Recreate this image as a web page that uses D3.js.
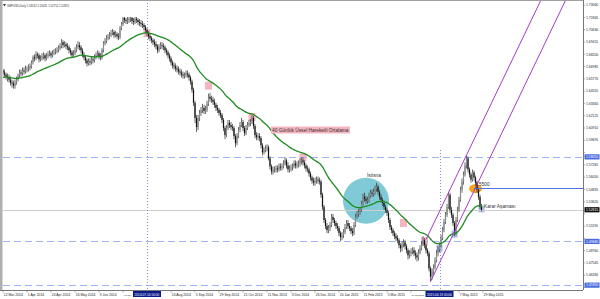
<!DOCTYPE html>
<html>
<head>
<meta charset="utf-8">
<script src="https://cdn.jsdelivr.net/npm/d3@7"></script>
<style>
  body { margin: 0; background: #fff; }
  svg { display: block; font-family: "Liberation Sans", Arial, sans-serif; }
</style>
</head>
<body>
<div id="chart"></div>
<script>

// --------------------------------------
//  Data (GBPUSD daily)
// --------------------------------------

const firstOpen = 1.666;

const closes = [
  1.664,1.662,1.660,1.659,1.657,1.654,1.653,1.651,1.654,1.657,
  1.661,1.664,1.663,1.666,1.665,1.667,1.667,1.668,1.670,1.674,
  1.679,1.678,1.682,1.681,1.677,1.678,1.680,1.681,1.678,1.680,
  1.682,1.683,1.681,1.683,1.684,1.685,1.686,1.688,1.690,1.694,
  1.691,1.692,1.690,1.689,1.686,1.684,1.681,1.683,1.686,1.689,
  1.691,1.689,1.686,1.681,1.679,1.676,1.673,1.675,1.674,1.677,
  1.676,1.679,1.681,1.683,1.680,1.679,1.686,1.693,1.695,1.698,
  1.699,1.701,1.703,1.704,1.701,1.702,1.700,1.699,1.708,1.712,
  1.718,1.716,1.715,1.716,1.717,1.718,1.715,1.714,1.717,1.716,
  1.714,1.713,1.712,1.711,1.709,1.706,1.703,1.700,1.698,1.696,
  1.694,1.692,1.690,1.686,1.689,1.691,1.690,1.689,1.686,1.684,
  1.681,1.678,1.674,1.671,1.670,1.668,1.667,1.665,1.664,1.662,
  1.661,1.661,1.663,1.662,1.659,1.655,1.647,1.634,1.619,1.610,
  1.619,1.624,1.627,1.629,1.626,1.627,1.633,1.640,1.638,1.637,
  1.635,1.632,1.629,1.627,1.624,1.622,1.617,1.609,1.602,1.609,
  1.614,1.612,1.610,1.609,1.601,1.594,1.601,1.607,1.612,1.615,
  1.609,1.604,1.609,1.612,1.614,1.615,1.619,1.611,1.602,1.600,
  1.601,1.599,1.592,1.585,1.587,1.589,1.590,1.579,1.571,1.566,
  1.568,1.568,1.569,1.568,1.571,1.570,1.571,1.574,1.577,1.572,
  1.568,1.569,1.570,1.571,1.574,1.572,1.573,1.574,1.576,1.577,
  1.575,1.572,1.569,1.568,1.564,1.560,1.557,1.555,1.557,1.558,
  1.557,1.556,1.543,1.531,1.518,1.512,1.508,1.510,1.513,1.521,
  1.518,1.515,1.512,1.510,1.505,1.501,1.503,1.506,1.511,1.515,
  1.512,1.510,1.507,1.505,1.513,1.521,1.524,1.526,1.528,1.534,
  1.541,1.539,1.537,1.538,1.542,1.545,1.544,1.546,1.549,1.551,
  1.546,1.541,1.538,1.535,1.531,1.528,1.525,1.518,1.511,1.508,
  1.505,1.502,1.500,1.498,1.493,1.490,1.494,1.496,1.492,1.488,
  1.483,1.485,1.487,1.488,1.485,1.483,1.481,1.486,1.490,1.494,
  1.498,1.493,1.488,1.485,1.470,1.462,1.467,1.471,1.478,1.485,
  1.489,1.493,1.500,1.508,1.516,1.523,1.531,1.543,1.528,1.523,
  1.515,1.505,1.518,1.528,1.538,1.548,1.556,1.563,1.572,1.579,
  1.568,1.563,1.558,1.565,1.560,1.555,1.548,1.541,1.531,1.528
];

const highs = [
  1.668,1.667,1.664,1.663,1.662,1.660,1.657,1.656,1.657,1.660,
  1.663,1.667,1.667,1.669,1.669,1.671,1.670,1.672,1.673,1.676,
  1.681,1.682,1.685,1.684,1.683,1.681,1.683,1.684,1.683,1.683,
  1.685,1.686,1.685,1.686,1.687,1.688,1.689,1.691,1.693,1.697,
  1.696,1.695,1.694,1.693,1.691,1.688,1.686,1.686,1.689,1.692,
  1.695,1.694,1.691,1.688,1.684,1.681,1.678,1.678,1.678,1.680,
  1.680,1.682,1.684,1.686,1.685,1.683,1.688,1.695,1.698,1.701,
  1.702,1.704,1.706,1.707,1.706,1.705,1.704,1.703,1.710,1.714,
  1.719,1.719,1.718,1.719,1.719,1.719,1.719,1.718,1.719,1.719,
  1.718,1.717,1.716,1.715,1.713,1.711,1.708,1.705,1.702,1.700,
  1.698,1.697,1.695,1.692,1.692,1.694,1.694,1.693,1.691,1.688,
  1.686,1.683,1.680,1.676,1.674,1.673,1.671,1.670,1.668,1.667,
  1.665,1.664,1.666,1.666,1.664,1.661,1.657,1.649,1.636,1.622,
  1.622,1.627,1.630,1.633,1.632,1.631,1.636,1.643,1.644,1.641,
  1.640,1.638,1.634,1.632,1.629,1.627,1.624,1.619,1.611,1.612,
  1.617,1.617,1.615,1.613,1.611,1.603,1.604,1.610,1.615,1.619,
  1.617,1.611,1.612,1.615,1.617,1.618,1.622,1.621,1.613,1.605,
  1.604,1.604,1.601,1.594,1.590,1.592,1.593,1.592,1.581,1.573,
  1.571,1.571,1.572,1.572,1.574,1.574,1.574,1.577,1.580,1.579,
  1.575,1.572,1.573,1.574,1.577,1.577,1.576,1.577,1.579,1.580,
  1.580,1.577,1.574,1.572,1.570,1.566,1.562,1.560,1.560,1.561,
  1.561,1.560,1.558,1.545,1.533,1.520,1.515,1.513,1.516,1.524,
  1.524,1.520,1.517,1.515,1.512,1.507,1.506,1.509,1.514,1.518,
  1.518,1.515,1.512,1.510,1.516,1.524,1.527,1.529,1.531,1.537,
  1.544,1.545,1.542,1.541,1.545,1.548,1.548,1.549,1.552,1.555,
  1.553,1.548,1.544,1.540,1.537,1.533,1.530,1.527,1.520,1.513,
  1.510,1.507,1.505,1.503,1.500,1.495,1.497,1.499,1.498,1.494,
  1.490,1.488,1.490,1.491,1.491,1.488,1.486,1.489,1.493,1.497,
  1.502,1.500,1.495,1.490,1.487,1.472,1.470,1.474,1.481,1.488,
  1.492,1.496,1.503,1.511,1.519,1.526,1.534,1.546,1.545,1.531,
  1.525,1.517,1.521,1.531,1.541,1.551,1.559,1.566,1.575,1.582,
  1.581,1.570,1.565,1.568,1.567,1.562,1.557,1.550,1.543,1.534
];

const lows = [
  1.661,1.659,1.657,1.655,1.654,1.651,1.649,1.648,1.648,1.652,
  1.655,1.659,1.660,1.661,1.662,1.663,1.664,1.665,1.666,1.668,
  1.672,1.675,1.676,1.678,1.674,1.675,1.676,1.677,1.675,1.676,
  1.678,1.680,1.678,1.679,1.681,1.682,1.683,1.684,1.686,1.688,
  1.688,1.689,1.687,1.686,1.683,1.681,1.678,1.679,1.681,1.684,
  1.687,1.686,1.683,1.679,1.676,1.673,1.670,1.671,1.671,1.672,
  1.673,1.674,1.677,1.679,1.677,1.676,1.677,1.684,1.691,1.693,
  1.696,1.697,1.699,1.701,1.698,1.699,1.697,1.696,1.697,1.706,
  1.710,1.713,1.712,1.712,1.713,1.714,1.712,1.711,1.712,1.713,
  1.711,1.710,1.709,1.708,1.706,1.703,1.700,1.697,1.695,1.693,
  1.691,1.689,1.687,1.683,1.684,1.687,1.687,1.686,1.683,1.681,
  1.678,1.675,1.671,1.668,1.667,1.665,1.664,1.662,1.661,1.659,
  1.658,1.658,1.659,1.659,1.656,1.652,1.644,1.631,1.614,1.605,
  1.607,1.616,1.621,1.624,1.623,1.623,1.625,1.631,1.635,1.634,
  1.632,1.629,1.626,1.624,1.621,1.619,1.614,1.606,1.598,1.600,
  1.607,1.609,1.607,1.606,1.598,1.590,1.592,1.599,1.605,1.610,
  1.606,1.601,1.602,1.607,1.610,1.611,1.613,1.608,1.599,1.597,
  1.597,1.596,1.589,1.582,1.583,1.585,1.586,1.577,1.568,1.563,
  1.563,1.565,1.565,1.565,1.566,1.567,1.567,1.569,1.572,1.569,
  1.565,1.565,1.566,1.567,1.569,1.569,1.569,1.570,1.571,1.573,
  1.572,1.569,1.566,1.565,1.561,1.557,1.554,1.552,1.552,1.554,
  1.554,1.553,1.540,1.528,1.515,1.509,1.505,1.505,1.507,1.511,
  1.515,1.512,1.509,1.507,1.502,1.497,1.498,1.500,1.504,1.509,
  1.509,1.507,1.504,1.502,1.503,1.511,1.519,1.521,1.523,1.526,
  1.532,1.536,1.534,1.534,1.535,1.540,1.541,1.541,1.543,1.546,
  1.543,1.538,1.535,1.532,1.528,1.525,1.522,1.515,1.508,1.505,
  1.502,1.499,1.497,1.495,1.490,1.486,1.487,1.491,1.489,1.485,
  1.479,1.480,1.482,1.484,1.482,1.479,1.477,1.478,1.484,1.488,
  1.492,1.490,1.485,1.482,1.467,1.457,1.459,1.464,1.469,1.476,
  1.482,1.486,1.491,1.498,1.506,1.514,1.521,1.529,1.525,1.520,
  1.512,1.502,1.503,1.516,1.526,1.536,1.545,1.553,1.561,1.569,
  1.565,1.560,1.555,1.556,1.557,1.552,1.545,1.538,1.529,1.527
];

// 40 day EMA, seeded with the value seen at the left edge
const emaPeriod = 40;
const emaSeed = 1.659;

const priceTicks = [1.73060, 1.71845, 1.70630, 1.69415, 1.68200, 1.66985, 1.65770, 1.64555,
  1.63340, 1.62125, 1.60910, 1.59695, 1.58480, 1.57265, 1.56050, 1.54835, 1.53620, 1.52405,
  1.51190, 1.49975, 1.48760, 1.47545, 1.46330, 1.45115];

const timeLabels = [
  [0, "12 Mar 2014"], [16, "1 Apr 2014"], [32, "24 Apr 2014"], [48, "16 May 2014"],
  [64, "9 Jun 2014"], [80, "1 Jul 2014"], [112, "14 Aug 2014"], [128, "5 Sep 2014"],
  [144, "29 Sep 2014"], [160, "21 Oct 2014"], [176, "11 Nov 2014"], [192, "3 Dec 2014"],
  [208, "26 Dec 2014"], [224, "20 Jan 2015"], [240, "11 Feb 2015"], [256, "5 Mar 2015"],
  [272, "24 Mar 2015"], [304, "7 May 2015"], [320, "29 May 2015"]
];

// vertical lines: [bar, date text]
const vLines = [[96, "2014.07.14 00:00"], [291, "2015.04.13 00:00"]];

const dashedLevels = [1.5805, 1.4968, 1.4535];
const levelLine = {price: 1.5500, from: 314, text: "1.5500"};
const lastPrice = 1.52815;
const title = "GBPUSD,Daily  1.53142 1.53411 1.52752 1.52815";

// marks drawn on the chart: [bar, price]
const pinkBoxes = [[96, 1.703], [137, 1.651], [166, 1.620], [200, 1.580], [267, 1.515], [281, 1.497]];
const blueBoxes = [[291, 1.490], [301, 1.504], [319, 1.529]];
const orangeSpot = [315, 1.549];
const circleSpot = [242, 1.537];

// channel: two anchors of the lower line, offset of the upper line
const channelA = [285, 1.457];
const channelB = [300, 1.5034];
const channelWidth = 0.051;
const channelEnd = 420;

// --------------------------------------
//  Canvas
// --------------------------------------

const width = 600;
const height = 299;
const plotL = 3, plotR = 583, plotT = 0, plotB = 290;

const svg = d3.select("#chart")
  .append("svg")
    .attr("width", width)
    .attr("height", height);

const defs = svg.append("defs");
defs.append("clipPath").attr("id", "plot")
  .append("rect")
    .attr("x", plotL).attr("y", plotT)
    .attr("width", plotR - plotL).attr("height", plotB - plotT);

const x = d3.scaleLinear().domain([0, 319]).range([3, 481.5]);
const y = d3.scaleLinear().domain([1.4487, 1.7348]).range([290, 1]);

const bars = closes.map((c, i) => ({
  i, o: i ? closes[i - 1] : firstOpen, h: highs[i], l: lows[i], c
}));

let e = emaSeed;
const k = 2 / (emaPeriod + 1);
const ema = closes.map(c => (e = e + k * (c - e)));

const chart = svg.append("g").attr("clip-path", "url(#plot)");

// --------------------------------------
//  Background objects
// --------------------------------------

chart.append("circle")
  .attr("cx", x(circleSpot[0]))
  .attr("cy", y(circleSpot[1]))
  .attr("r", 23)
  .attr("fill", "#7fcad6");

chart.selectAll(".pink")
  .data(pinkBoxes)
  .join("rect")
    .attr("class", "pink")
    .attr("x", d => x(d[0]) - 3.5)
    .attr("y", d => y(d[1]) - 4)
    .attr("width", 7)
    .attr("height", 8)
    .attr("fill", "#f6b4c0");

chart.selectAll(".bluebox")
  .data(blueBoxes)
  .join("rect")
    .attr("class", "bluebox")
    .attr("x", d => x(d[0]) - 3)
    .attr("y", d => y(d[1]) - 3.5)
    .attr("width", 6)
    .attr("height", 7)
    .attr("fill", "#a8bde3");

chart.append("ellipse")
  .attr("cx", x(orangeSpot[0]))
  .attr("cy", y(orangeSpot[1]))
  .attr("rx", 6.5)
  .attr("ry", 4.5)
  .attr("fill", "#f7a21b");

chart.selectAll(".dash")
  .data(dashedLevels)
  .join("line")
    .attr("class", "dash")
    .attr("x1", plotL).attr("x2", plotR)
    .attr("y1", d => Math.round(y(d)) + 0.5)
    .attr("y2", d => Math.round(y(d)) + 0.5)
    .attr("stroke", "#9fb2f2")
    .attr("stroke-dasharray", "7,4");

chart.append("line")
  .attr("x1", plotL).attr("x2", plotR)
  .attr("y1", Math.round(y(lastPrice)) + 0.5)
  .attr("y2", Math.round(y(lastPrice)) + 0.5)
  .attr("stroke", "#cfcfcf");

chart.selectAll(".vline")
  .data(vLines)
  .join("line")
    .attr("class", "vline")
    .attr("x1", d => Math.round(x(d[0])) + 0.5)
    .attr("x2", d => Math.round(x(d[0])) + 0.5)
    .attr("y1", (d, i) => i ? 150 : plotT)
    .attr("y2", plotB)
    .attr("stroke", "#8c8cd0")
    .attr("stroke-dasharray", "1,2");

// --------------------------------------
//  Candles
// --------------------------------------

chart.selectAll(".wick")
  .data(bars)
  .join("line")
    .attr("class", "wick")
    .attr("x1", d => x(d.i)).attr("x2", d => x(d.i))
    .attr("y1", d => y(d.h)).attr("y2", d => y(d.l))
    .attr("stroke", "#444")
    .attr("stroke-width", 0.8);

chart.selectAll(".body")
  .data(bars)
  .join("rect")
    .attr("class", "body")
    .attr("x", d => x(d.i) - 0.6)
    .attr("width", 1.2)
    .attr("y", d => y(Math.max(d.o, d.c)))
    .attr("height", d => Math.max(0.6, Math.abs(y(d.o) - y(d.c))))
    .attr("fill", d => d.c >= d.o ? "#8c8c8c" : "#111");

// EMA
chart.append("path")
  .datum(ema)
  .attr("d", d3.line().x((d, i) => x(i)).y(d => y(d)).curve(d3.curveMonotoneX))
  .attr("fill", "none")
  .attr("stroke", "#1e8c1e")
  .attr("stroke-width", 1.3);

// channel
const slope = (channelB[1] - channelA[1]) / (channelB[0] - channelA[0]);
const chLines = [
  [[channelA[0], channelA[1]], [channelEnd, channelA[1] + slope * (channelEnd - channelA[0])]],
  [[channelA[0] - 3, channelA[1] - slope * 3 + channelWidth],
   [channelEnd, channelA[1] + slope * (channelEnd - channelA[0]) + channelWidth]]
];
chart.selectAll(".chan")
  .data(chLines)
  .join("line")
    .attr("class", "chan")
    .attr("x1", d => x(d[0][0])).attr("y1", d => y(d[0][1]))
    .attr("x2", d => x(d[1][0])).attr("y2", d => y(d[1][1]))
    .attr("stroke", "#a53cc6")
    .attr("stroke-width", 1);

// 1.5500 level
chart.append("line")
  .attr("x1", x(levelLine.from)).attr("x2", plotR)
  .attr("y1", Math.round(y(levelLine.price)) + 0.5)
  .attr("y2", Math.round(y(levelLine.price)) + 0.5)
  .attr("stroke", "#4f72e0");

// --------------------------------------
//  Texts
// --------------------------------------

const note = svg.append("g").attr("font-size", 4.8).attr("fill", "#333");

note.append("text")
  .attr("x", x(levelLine.from) + 1).attr("y", y(levelLine.price) - 2)
  .text(levelLine.text);

note.append("text")
  .attr("x", 484).attr("y", y(lastPrice) - 1.5)
  .text("Karar Aşaması");

note.append("text")
  .attr("x", x(circleSpot[0]) + 1).attr("y", 177)
  .text("İstisna");

const emaNote = note.append("g");
emaNote.append("rect")
  .attr("x", 271).attr("y", 126.5).attr("width", 79).attr("height", 7)
  .attr("fill", "#f6b4c0");
emaNote.append("text")
  .attr("x", 272).attr("y", 132)
  .text("40 Günlük Üssel Hareketli Ortalama");

svg.append("path")
  .attr("d", "M3,4 L6,4 L4.5,6.5 Z")
  .attr("fill", "#333");
svg.append("text")
  .attr("x", 7).attr("y", 6.5)
  .attr("font-size", 2.8)
  .attr("fill", "#333")
  .text(title);

// --------------------------------------
//  Frame and axes
// --------------------------------------

svg.append("rect")
  .attr("x", 0).attr("y", 0).attr("width", 2.5).attr("height", plotB)
  .attr("fill", "#b0b0b0");
svg.append("line")
  .attr("x1", 0).attr("x2", plotR).attr("y1", 0.5).attr("y2", 0.5)
  .attr("stroke", "#a0a0a0");
svg.append("line")
  .attr("x1", plotR + 0.5).attr("x2", plotR + 0.5).attr("y1", 0).attr("y2", plotB)
  .attr("stroke", "#777");
svg.append("line")
  .attr("x1", 0).attr("x2", plotR).attr("y1", plotB + 0.5).attr("y2", plotB + 0.5)
  .attr("stroke", "#777");

const axisFont = 3.4;

const tagged = dashedLevels.map(p => [p, "#4a6be0"]).concat([[lastPrice, "#111"]]);

// price labels that sit under a tag are covered by it, so they are left out
const shownTicks = priceTicks.filter(t => tagged.every(g => Math.abs(y(t) - y(g[0])) > 4.5));

const yAxis = svg.append("g").attr("font-size", axisFont).attr("fill", "#222");
yAxis.selectAll("line")
  .data(priceTicks)
  .join("line")
    .attr("x1", plotR).attr("x2", plotR + 2)
    .attr("y1", d => y(d)).attr("y2", d => y(d))
    .attr("stroke", "#777").attr("stroke-width", 0.6);
yAxis.selectAll("text")
  .data(shownTicks)
  .join("text")
    .attr("x", 586)
    .attr("y", d => y(d) + 1.2)
    .text(d => d.toFixed(5));

const tags = svg.append("g").attr("font-size", axisFont);
tags.selectAll("rect")
  .data(tagged)
  .join("rect")
    .attr("x", 584.5).attr("width", 15)
    .attr("y", d => y(d[0]) - 2.6).attr("height", 5.2)
    .attr("fill", d => d[1]);
tags.selectAll("text")
  .data(tagged)
  .join("text")
    .attr("x", 586)
    .attr("y", d => y(d[0]) + 1.2)
    .attr("fill", "#fff")
    .text(d => d[0].toFixed(5));

// date tags of the vertical lines
const tagHalf = 14;
const gaps = vLines.map(d => [x(d[0]) - tagHalf, x(d[0]) + tagHalf]);

const xAxis = svg.append("g").attr("font-size", axisFont).attr("fill", "#222");
xAxis.selectAll("line")
  .data(timeLabels)
  .join("line")
    .attr("x1", d => x(d[0])).attr("x2", d => x(d[0]))
    .attr("y1", plotB).attr("y2", plotB + 2.5)
    .attr("stroke", "#777").attr("stroke-width", 0.6);
xAxis.selectAll("text")
  .data(timeLabels)
  .join("text")
    .attr("x", d => x(d[0]) + 0.8)
    .attr("y", 296)
    .text(d => d[1])
    .each(function(d) {
      // shrink a label that would run under a date tag
      const x0 = x(d[0]) + 0.8;
      const w = this.getComputedTextLength();
      const gap = gaps.find(g => x0 < g[0] && x0 + w > g[0] - 1.5);
      if (gap) {
        const room = gap[0] - x0 - 1.5;
        d3.select(this).attr("font-size", axisFont * room / w);
      }
    });

const dateTags = svg.append("g").attr("font-size", 3.2);
dateTags.selectAll("rect")
  .data(vLines)
  .join("rect")
    .attr("x", d => x(d[0]) - tagHalf).attr("width", tagHalf * 2)
    .attr("y", 291).attr("height", 6)
    .attr("fill", "#0a1a8a");
dateTags.selectAll("text")
  .data(vLines)
  .join("text")
    .attr("x", d => x(d[0]))
    .attr("y", 295.5)
    .attr("text-anchor", "middle")
    .attr("fill", "#fff")
    .text(d => d[1]);

</script>
</body>
</html>
